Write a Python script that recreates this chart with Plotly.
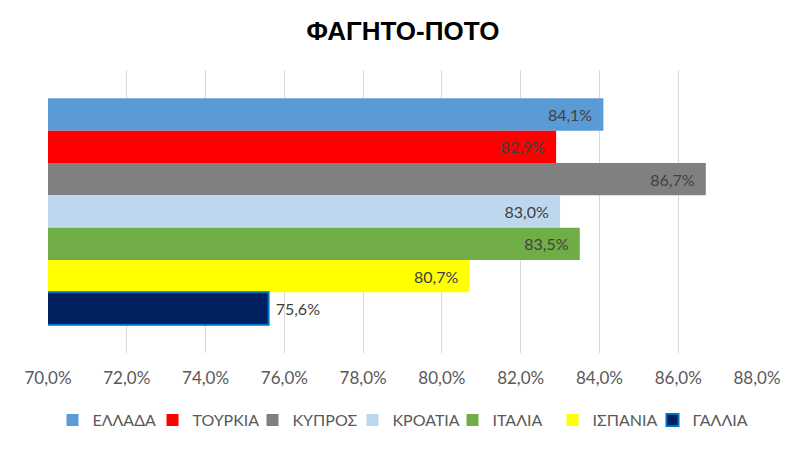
import plotly.graph_objects as go

countries = ["ΕΛΛΑΔΑ", "ΤΟΥΡΚΙΑ", "ΚΥΠΡΟΣ", "ΚΡΟΑΤΙΑ", "ΙΤΑΛΙΑ", "ΙΣΠΑΝΙΑ", "ΓΑΛΛΙΑ"]
values = [0.841, 0.829, 0.867, 0.830, 0.835, 0.807, 0.756]
colors = ["#5B9BD5", "#FF0000", "#808080", "#BDD7EE", "#70AD47", "#FFFF00", "#002060"]
line_colors = ["#5B9BD5", "#FF0000", "#808080", "#BDD7EE", "#70AD47", "#FFFF00", "#0070C0"]
category = ["ΦΑΓΗΤΟ-ΠΟΤΟ"]
tick_vals = [0.70, 0.72, 0.74, 0.76, 0.78, 0.80, 0.82, 0.84, 0.86, 0.88]

FONT = "Lato, 'Open Sans', sans-serif"
NB = "\u00a0"

fig = go.Figure()
for i, (name, v) in enumerate(zip(countries, values)):
    outside = name == "ΓΑΛΛΙΑ"
    fig.add_trace(go.Bar(
        name=name,
        y=category,
        x=[v],
        orientation="h",
        marker=dict(color=colors[i], line=dict(color=line_colors[i], width=2 if outside else 0)),
        texttemplate=(NB + "%{x:.1%}") if outside else ("%{x:.1%}" + NB + NB),
        textposition="outside" if outside else "inside",
        insidetextanchor="end",
        textfont=dict(family=FONT, size=16, color="#404040"),
        cliponaxis=False,
        base=0,
    ))

fig.update_layout(
    width=806, height=452,
    paper_bgcolor="white", plot_bgcolor="white",
    separators=",.",
    barmode="group",
    bargap=0.2,
    bargroupgap=0,
    margin=dict(l=48, r=49, t=70, b=99, autoexpand=False),
    title=dict(text="<b>ΦΑΓΗΤΟ-ΠΟΤΟ</b>", x=0.5, xanchor="center", y=1 - 31 / 452, yanchor="middle",
               font=dict(family="Liberation Sans, Arial, sans-serif", size=26, color="#000000")),
    xaxis=dict(range=[0.70, 0.88], tickvals=tick_vals, tickformat=".1%",
               showgrid=True, gridcolor="#D9D9D9", gridwidth=1, zeroline=False,
               showline=False, ticks="", ticklen=0, ticklabelstandoff=13,
               tickfont=dict(family=FONT, size=17, color="#595959")),
    yaxis=dict(autorange="reversed", showticklabels=False, showgrid=False, zeroline=False,
               showline=False),
    legend=dict(orientation="h", x=0.5, xanchor="center", y=-0.237, yanchor="middle",
                font=dict(family=FONT, size=16, color="#595959"), itemwidth=30,
                entrywidth=55, entrywidthmode="pixels",
                traceorder="normal"),
    font=dict(family=FONT),
)

fig.write_html("out.html")
